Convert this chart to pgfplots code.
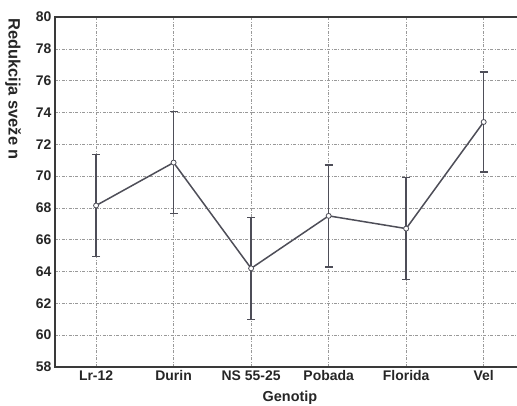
\documentclass[border=0pt]{standalone}
\usepackage{fontspec}
\setmainfont{Liberation Sans}
\usepackage{pgfplots}
\pgfplotsset{compat=1.18}
\definecolor{ln}{HTML}{4E4E58}
\definecolor{gr}{HTML}{999999}
\definecolor{ax}{HTML}{3A3A3A}
\begin{document}
\begin{tikzpicture}
\begin{axis}[
  scale only axis, width=462bp, height=350bp,
  xmin=-0.53, xmax=5.43, ymin=58, ymax=80,
  axis line style={draw=none},
  xtick={0,...,5},
  xticklabels={Lr-12,Durin,NS 55-25,Pobada,Florida,Vel},
  ytick={58,60,...,80},
  major tick length=0pt,
  grid=major,
  grid style={dash pattern=on 3bp off 1.5bp on 0.8bp off 1.5bp, gr, line width=0.5bp},
  tick label style={font=\bfseries\fontsize{14}{16}\selectfont, text=black!85},
  /pgf/number format/assume math mode=true,
  xlabel={Genotip},
  xlabel style={font=\bfseries\fontsize{14.5}{16}\selectfont, text=black!85, at={(axis description cs:0.5,0)}, anchor=center, yshift=-31bp, xshift=4bp},
  clip=false,
]
\draw[line width=1.4bp, ax] (rel axis cs:1,1) -- (rel axis cs:0,1) -- (rel axis cs:0,0) -- (rel axis cs:1,0);
\addplot[ln, line width=1.5bp, mark=*, mark size=2.5bp,
  mark options={fill=white, draw=ln, line width=0.8bp},
  error bars/.cd, y dir=both, y explicit,
  error bar style={line width=1.5bp, ln},
  error mark options={rotate=90, line width=1.5bp, mark size=4bp, ln}]
coordinates {
  (0,68.15) +- (0,3.2)
  (1,70.85) +- (0,3.2)
  (2,64.2)  +- (0,3.2)
  (3,67.5)  +- (0,3.2)
  (4,66.7)  +- (0,3.2)
  (5,73.4)  +- (0,3.15)
};
\coordinate (tl) at (rel axis cs:0,1);
\coordinate (br) at (rel axis cs:1,0);
\node[rotate=-90, anchor=north west, inner sep=0pt, text=black!85,
  font=\bfseries\fontsize{16.5}{18}\selectfont]
  at ([shift={(-34bp,-1bp)}]rel axis cs:0,1) {Redukcija sveže n};
\end{axis}
\pgfresetboundingbox
\path ([shift={(-55bp,17bp)}]tl) rectangle ([shift={(0bp,-39bp)}]br);
\end{tikzpicture}
\end{document}
